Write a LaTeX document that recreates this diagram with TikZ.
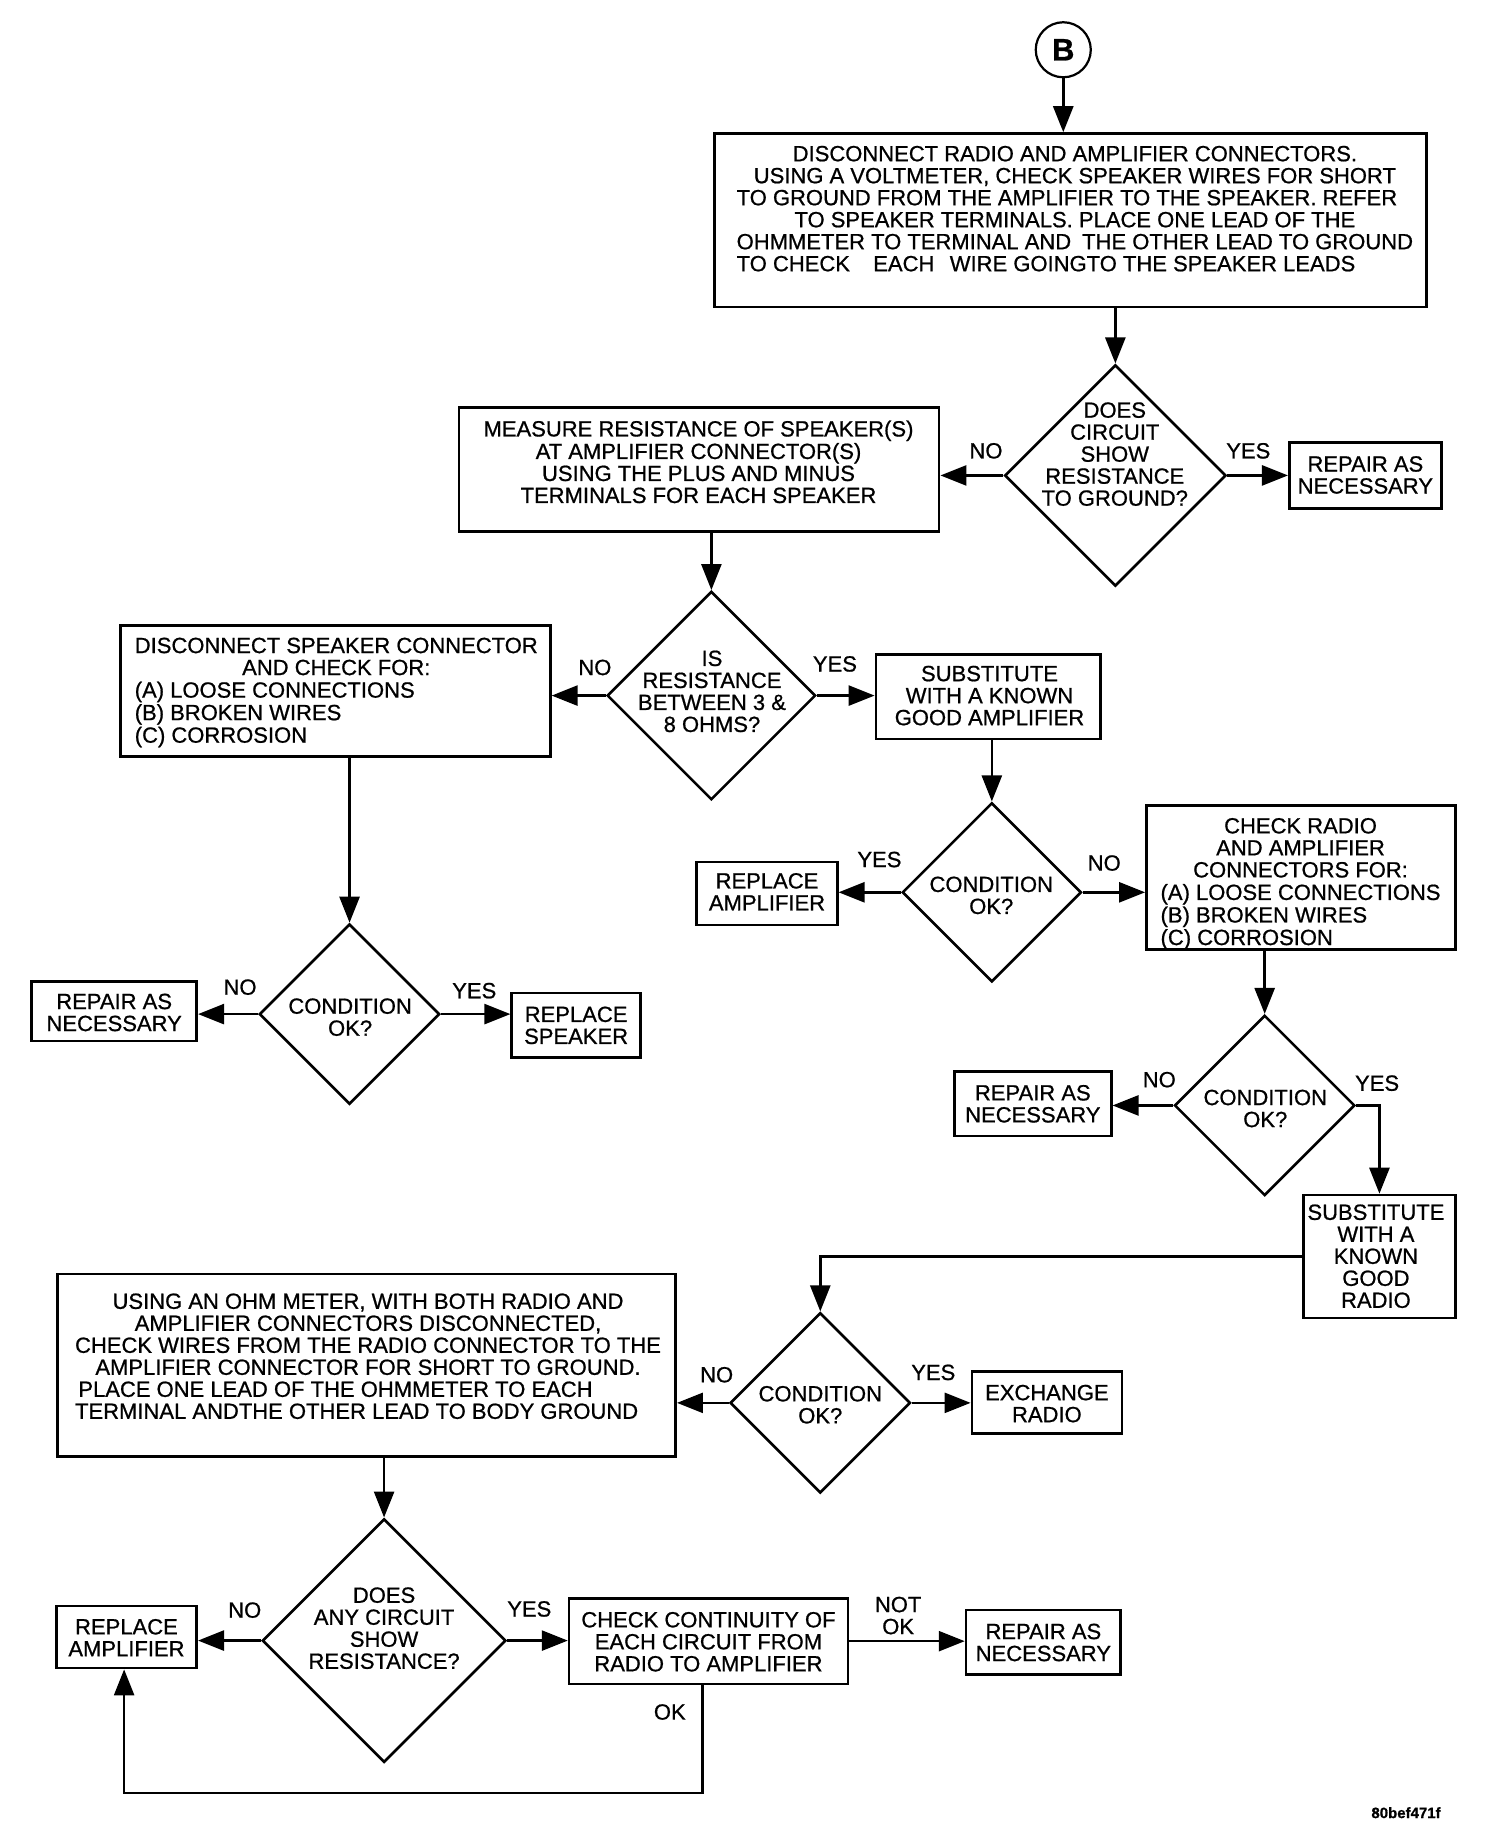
\documentclass[tikz,border=0pt]{standalone}
\usepackage{fontspec}
\setmainfont{Liberation Sans}[FakeBold=0.8]
\usetikzlibrary{arrows.meta,shapes.geometric,calc}
\newdimen\dunit \dunit=0.5855pt
\newcommand{\fs}{\fontsize{11}{11}\selectfont}
\newcommand{\ctext}[1]{\begin{tabular}[t]{@{}c@{}}#1\end{tabular}}
\newcommand{\ltext}[1]{\begin{tabular}[t]{@{}l@{}}#1\end{tabular}}
\newcommand{\cenline}[1]{\multicolumn{1}{@{}c@{}}{#1}}
\begin{document}
\begin{tikzpicture}[x=0.5855pt,y=-0.5855pt,line width=1.3pt,
  box/.style={draw,rectangle,inner sep=0pt},
  dia/.style={draw,diamond,inner sep=0pt,minimum width=#1*\dunit,minimum height=#1*\dunit},
  txt/.style={inner sep=0pt,font=\fs,anchor=base},
  ltxt/.style={inner sep=0pt,font=\fs,anchor=base west},
  lab/.style={inner sep=0pt,font=\fs},
  arr/.style={-{Triangle[length=13pt,width=10pt]}}]
\useasboundingbox (0,0) rectangle (1284.4,1569.6);

% start circle
\node[circle,draw,line width=1.1pt,minimum size=47*\dunit,inner sep=0pt,font=\bfseries\fontsize{15.5}{15.5}\selectfont] (B) at (908,42.5) {B};

% boxes
\node[box,minimum width=608*\dunit,minimum height=148*\dunit] (b1) at (914,188) {};
\node[box,minimum width=130*\dunit,minimum height=56*\dunit] (rep1) at (1166,406) {};
\node[box,minimum width=410*\dunit,minimum height=106*\dunit] (b2) at (597,401) {};
\node[box,minimum width=367*\dunit,minimum height=112*\dunit] (b3) at (286.5,590) {};
\node[box,minimum width=192*\dunit,minimum height=72*\dunit] (b4) at (844,595) {};
\node[box,minimum width=141*\dunit,minimum height=51*\dunit] (rep2) at (97.5,863.5) {};
\node[box,minimum width=110*\dunit,minimum height=55*\dunit] (spk) at (492,875.5) {};
\node[box,minimum width=120*\dunit,minimum height=54*\dunit] (amp1) at (655,763) {};
\node[box,minimum width=264*\dunit,minimum height=123*\dunit] (b5) at (1111,749.5) {};
\node[box,minimum width=134*\dunit,minimum height=55*\dunit] (rep3) at (882,942.5) {};
\node[box,minimum width=130*\dunit,minimum height=105*\dunit] (b6) at (1178,1073) {};
\node[box,minimum width=128*\dunit,minimum height=53*\dunit] (exch) at (894,1197.5) {};
\node[box,minimum width=528*\dunit,minimum height=156*\dunit] (b7) at (313,1166) {};
\node[box,minimum width=120*\dunit,minimum height=53*\dunit] (amp2) at (108,1398) {};
\node[box,minimum width=238*\dunit,minimum height=73*\dunit] (b8) at (605,1401.5) {};
\node[box,minimum width=132*\dunit,minimum height=55*\dunit] (rep4) at (891,1402.5) {};

% diamonds
\node[dia=189] (d1) at (952.5,406) {};
\node[dia=178] (d2) at (607.5,594) {};
\node[dia=154] (d3) at (298.5,866) {};
\node[dia=153] (d4) at (847,762) {};
\node[dia=154] (d5) at (1080,944) {};
\node[dia=154] (d6) at (700.5,1198) {};
\node[dia=208] (d7) at (328,1401) {};

% box texts
\node[ltxt] (t1) at (628,137.7) {\ltext{\cenline{DISCONNECT RADIO AND AMPLIFIER CONNECTORS.}\\
\cenline{USING A VOLTMETER, CHECK SPEAKER WIRES FOR SHORT}\\
TO GROUND FROM THE AMPLIFIER TO THE SPEAKER. REFER\\
\cenline{TO SPEAKER TERMINALS. PLACE ONE LEAD OF THE}\\
OHMMETER TO TERMINAL AND\hspace{0.5em}THE OTHER LEAD TO GROUND\\
TO CHECK\hspace{1.06em}EACH\hspace{0.7em}WIRE GOINGTO THE SPEAKER LEADS}};
\node[txt] (t2) at (596.5,372.7) {\ctext{MEASURE RESISTANCE OF SPEAKER(S)\\AT AMPLIFIER CONNECTOR(S)\\USING THE PLUS AND MINUS\\TERMINALS FOR EACH SPEAKER}};
\node[ltxt] (t3) at (114,557.7) {\ltext{\cenline{DISCONNECT SPEAKER CONNECTOR}\\\cenline{AND CHECK FOR:}\\(A) LOOSE CONNECTIONS\\(B) BROKEN WIRES\\(C) CORROSION}};
\node[txt] (t4) at (845,581.7) {\ctext{SUBSTITUTE\\WITH A KNOWN\\GOOD AMPLIFIER}};
\node[ltxt] (t5) at (990,711.7) {\ltext{\cenline{CHECK RADIO}\\\cenline{AND AMPLIFIER}\\\cenline{CONNECTORS FOR:}\\(A) LOOSE CONNECTIONS\\(B) BROKEN WIRES\\(C) CORROSION}};
\node[txt] (t6) at (1175,1041.7) {\ctext{SUBSTITUTE\\WITH A\\KNOWN\\GOOD\\RADIO}};
\node[ltxt] (t7) at (63,1117.7) {\ltext{\cenline{USING AN OHM METER, WITH BOTH RADIO AND}\\
\cenline{AMPLIFIER CONNECTORS DISCONNECTED,}\\
\cenline{CHECK WIRES FROM THE RADIO CONNECTOR TO THE}\\
\cenline{AMPLIFIER CONNECTOR FOR SHORT TO GROUND.}\\
\hspace{0.15em}PLACE ONE LEAD OF THE OHMMETER TO EACH\\
TERMINAL ANDTHE OTHER LEAD TO BODY GROUND}};
\node[txt] (trep1) at (1166,402.7) {\ctext{REPAIR AS\\NECESSARY}};
\node[txt] (trep2) at (97.5,861.7) {\ctext{REPAIR AS\\NECESSARY}};
\node[txt] (tspk) at (492,872.7) {\ctext{REPLACE\\SPEAKER}};
\node[txt] (tamp1) at (655,758.7) {\ctext{REPLACE\\AMPLIFIER}};
\node[txt] (trep3) at (882,939.7) {\ctext{REPAIR AS\\NECESSARY}};
\node[txt] (texch) at (894,1195.7) {\ctext{EXCHANGE\\RADIO}};
\node[txt] (tamp2) at (108,1395.7) {\ctext{REPLACE\\AMPLIFIER}};
\node[txt] (t8) at (605,1389.7) {\ctext{CHECK CONTINUITY OF\\EACH CIRCUIT FROM\\RADIO TO AMPLIFIER}};
\node[txt] (trep4) at (891,1399.7) {\ctext{REPAIR AS\\NECESSARY}};

% diamond texts
\node[txt] (td1) at (952,356.7) {\ctext{DOES\\CIRCUIT\\SHOW\\RESISTANCE\\TO GROUND?}};
\node[txt] (td2) at (608,568.7) {\ctext{IS\\RESISTANCE\\BETWEEN 3 \&\\8 OHMS?}};
\node[txt] (td3) at (299,865.7) {\ctext{CONDITION\\OK?}};
\node[txt] (td4) at (846.5,761.7) {\ctext{CONDITION\\OK?}};
\node[txt] (td5) at (1080.5,943.7) {\ctext{CONDITION\\OK?}};
\node[txt] (td6) at (700.5,1196.7) {\ctext{CONDITION\\OK?}};
\node[txt] (td7) at (328,1368.7) {\ctext{DOES\\ANY CIRCUIT\\SHOW\\RESISTANCE?}};

% branch labels
\node[lab] (l1n) at (842,385) {NO};
\node[lab] (l1y) at (1066,385) {YES};
\node[lab] (l2n) at (508,570) {NO};
\node[lab] (l2y) at (713,567) {YES};
\node[lab] (l3n) at (205,843) {NO};
\node[lab] (l3y) at (405,846) {YES};
\node[lab] (l4y) at (751,734) {YES};
\node[lab] (l4n) at (943,737) {NO};
\node[lab] (l5n) at (990,922) {NO};
\node[lab] (l5y) at (1176,925) {YES};
\node[lab] (l6n) at (612,1174) {NO};
\node[lab] (l6y) at (797,1172) {YES};
\node[lab] (l7n) at (209,1375) {NO};
\node[lab] (l7y) at (452,1374) {YES};
\node[txt] (l8n) at (767,1376.7) {\ctext{NOT\\OK}};
\node[lab] (l8o) at (572,1462) {OK};

\node[inner sep=0pt,font=\bfseries\fontsize{7.5}{7.5}\selectfont] (code) at (1200.7,1548) {80bef471f};

% connectors
\draw[arr] (B.south) -- (B.south |- b1.north);
\draw[arr] (d1.north |- b1.south) -- (d1.north);
\draw[arr] (d1.east) -- (d1.east -| rep1.west);
\draw[arr] (d1.west) -- (d1.west -| b2.east);
\draw[arr] (d2.north |- b2.south) -- (d2.north);
\draw[arr] (d2.west) -- (d2.west -| b3.east);
\draw[arr] (d2.east) -- (d2.east -| b4.west);
\draw[arr] (d3.north |- b3.south) -- (d3.north);
\draw[arr] (d3.west) -- (d3.west -| rep2.east);
\draw[arr] (d3.east) -- (d3.east -| spk.west);
\draw[arr] (d4.north |- b4.south) -- (d4.north);
\draw[arr] (d4.west) -- (d4.west -| amp1.east);
\draw[arr] (d4.east) -- (d4.east -| b5.west);
\draw[arr] (d5.north |- b5.south) -- (d5.north);
\draw[arr] (d5.west) -- (d5.west -| rep3.east);
\draw[arr] (d5.east) -| (b6.north);
\draw[arr] (b6.west) -| (d6.north);
\draw[arr] (d6.west) -- (d6.west -| b7.east);
\draw[arr] (d6.east) -- (d6.east -| exch.west);
\draw[arr] (d7.north |- b7.south) -- (d7.north);
\draw[arr] (d7.west) -- (d7.west -| amp2.east);
\draw[arr] (d7.east) -- (d7.east -| b8.west);
\draw[arr] (b8.east) -- (b8.east -| rep4.west);
\coordinate (lpa) at (600,1531);
\coordinate (lpb) at (106,1531);
\draw[arr] (b8.south -| lpa) -- (lpa) -- (lpb) -- (lpb |- amp2.south);
\end{tikzpicture}
\end{document}
